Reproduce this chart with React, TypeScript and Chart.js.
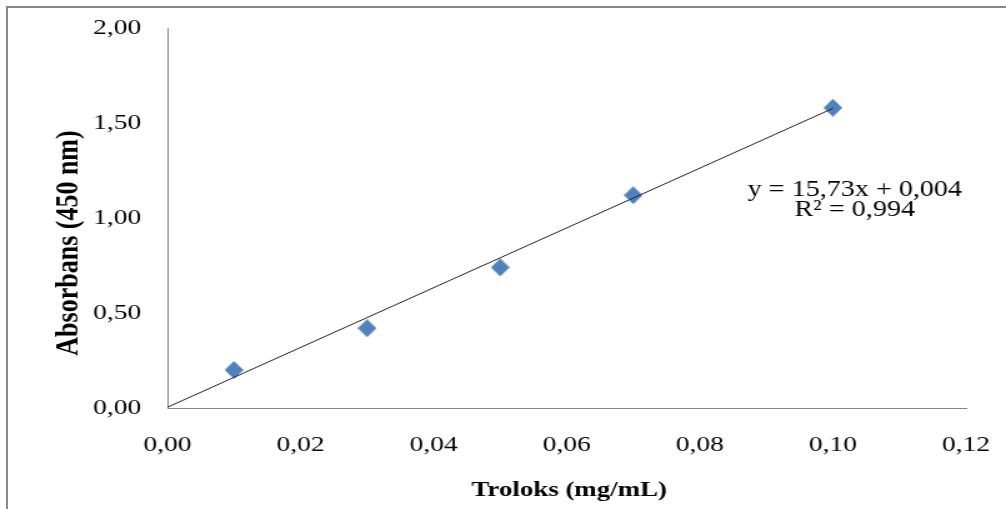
import React, { useEffect, useRef } from 'react';
import { Chart, registerables } from 'chart.js';

Chart.register(...registerables);

// ---- data ----
const concentrations = [0.01, 0.03, 0.05, 0.07, 0.1];
const absorbances = [0.2, 0.42, 0.74, 1.12, 1.58];
const xTickLabels = ['0,00', '0,02', '0,04', '0,06', '0,08', '0,10', '0,12'];
const yTickLabels = ['0,00', '0,50', '1,00', '1,50', '2,00'];
const trendSlope = 15.73;
const trendIntercept = 0.004;
const trendRange = [0, 0.1];
const equationLines = ['y = 15,73x + 0,004', 'R² = 0,994'];
const xTitle = 'Troloks (mg/mL)';
const yTitle = 'Absorbans (450 nm)';

// ---- layout ----
const SCREEN_W = 1006;
const H = 509;
const STRETCH = 1.25;
const W = Math.round(SCREEN_W / STRETCH);
const SERIF = '"Liberation Serif", "Times New Roman", serif';

function makeDiamond(w: number, h: number, color: string) {
  const c = document.createElement('canvas');
  c.width = w;
  c.height = h;
  const g = c.getContext('2d')!;
  g.fillStyle = color;
  g.beginPath();
  g.moveTo(w / 2, 0);
  g.lineTo(w, h / 2);
  g.lineTo(w / 2, h);
  g.lineTo(0, h / 2);
  g.closePath();
  g.fill();
  return c;
}

const textPlugin = {
  id: 'textPlugin',
  afterDraw(chart: any) {
    const { ctx, chartArea } = chart;
    ctx.save();
    ctx.fillStyle = '#000';
    ctx.textAlign = 'center';
    ctx.textBaseline = 'alphabetic';
    // x title
    ctx.font = `bold 21.5px ${SERIF}`;
    ctx.fillText(xTitle, (chartArea.left + chartArea.right) / 2 + 2, 496);
    // y title
    ctx.save();
    ctx.translate(62, 243);
    ctx.rotate(-Math.PI / 2);
    ctx.font = `bold 26px ${SERIF}`;
    ctx.fillText(yTitle, 0, 0);
    ctx.restore();
    // equation
    ctx.font = `22.5px ${SERIF}`;
    const cx = chartArea.right - 89;
    ctx.fillText(equationLines[0], cx, 196);
    ctx.fillText(equationLines[1], cx, 216);
    ctx.restore();
  },
};

const zeroPad = (s: any) => {
  s.paddingTop = 0;
  s.paddingBottom = 0;
  s.paddingLeft = 0;
  s.paddingRight = 0;
};

export default function App() {
  const ref = useRef<HTMLCanvasElement | null>(null);

  useEffect(() => {
    if (!ref.current) return;
    const diamond = makeDiamond(15, 18, '#4F81BD');
    const chart = new Chart(ref.current, {
      type: 'scatter',
      data: {
        datasets: [
          {
            type: 'line',
            label: 'Trend',
            data: trendRange.map((x) => ({ x, y: trendSlope * x + trendIntercept })),
            borderColor: '#222',
            borderWidth: 1,
            pointRadius: 0,
            showLine: true,
            fill: false,
            order: 0,
          } as any,
          {
            label: 'Absorbans',
            data: concentrations.map((x, i) => ({ x, y: absorbances[i] })),
            pointStyle: diamond as any,
            backgroundColor: '#4F81BD',
            borderColor: '#4F81BD',
            pointRadius: 8,
            order: 1,
          },
        ],
      },
      options: {
        responsive: false,
        maintainAspectRatio: false,
        animation: false,
        devicePixelRatio: 1,
        layout: { padding: { left: 0, right: 32, top: 28, bottom: 0 } },
        plugins: { legend: { display: false }, tooltip: { enabled: false } },
        scales: {
          x: {
            type: 'linear',
            min: 0,
            max: 0.12,
            ticks: {
              stepSize: 0.02,
              color: '#000',
              padding: 24,
              maxRotation: 0,
              font: { family: SERIF, size: 22 },
              callback: (_v: any, i: number) => xTickLabels[i],
            },
            grid: { display: true, drawOnChartArea: false, drawTicks: false },
            border: { display: true, color: '#868686', width: 1 },
            afterFit: (s: any) => {
              s.height = 101;
              zeroPad(s);
            },
          },
          y: {
            type: 'linear',
            min: 0,
            max: 2,
            ticks: {
              stepSize: 0.5,
              color: '#000',
              padding: 21,
              font: { family: SERIF, size: 22 },
              callback: (_v: any, i: number) => yTickLabels[i],
            },
            grid: { display: true, drawOnChartArea: false, drawTicks: false },
            border: { display: true, color: '#868686', width: 1 },
            afterFit: (s: any) => {
              s.width = 134;
              zeroPad(s);
            },
          },
        },
      },
      plugins: [textPlugin],
    });
    return () => chart.destroy();
  }, []);

  return (
    <div
      style={{
        position: 'fixed',
        left: 0,
        top: 0,
        width: SCREEN_W,
        height: H,
        background: '#fff',
        overflow: 'hidden',
      }}
    >
      <canvas
        ref={ref}
        width={W}
        height={H}
        style={{ position: 'absolute', left: 0, top: 0, width: `${SCREEN_W}px`, height: `${H}px` }}
      />
      <div
        style={{
          position: 'absolute',
          left: 6,
          top: 6,
          width: SCREEN_W,
          height: H,
          borderLeft: '2px solid #888',
          borderTop: '2px solid #888',
          pointerEvents: 'none',
        }}
      />
    </div>
  );
}
